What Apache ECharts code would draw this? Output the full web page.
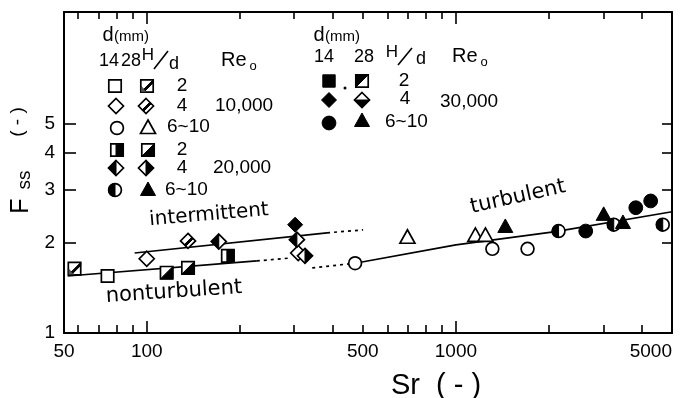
<!DOCTYPE html>
<html><head><meta charset="utf-8">
<script src="https://cdn.jsdelivr.net/npm/echarts@6/dist/echarts.min.js"></script>
<style>html,body{margin:0;padding:0;background:#fff}#c{width:686px;height:398px}</style>
</head><body><div id="c"></div>
<script>
// ---- axis ranges and ticks ----
const xMin = 54, xMax = 5000, yMin = 1, yMax = 11.8;
const xLabelValues = [54, 100, 500, 1000, 5000];
const xTickLabels = ['50', '100', '500', '1000', '5000'];
const xMajorTicks = [100, 1000];
const xMinorTicks = [60, 70, 80, 90, 200, 300, 400, 500, 600, 700, 800, 900, 2000, 3000, 4000];
const yLabelValues = [1, 2, 3, 4, 5];
const yTickLabels = ['1', '2', '3', '4', '5'];
const yTicks = [2, 3, 4, 5];

// ---- data (Sr, Fss) by marker type ----
// Re0 = 10,000
const sqOpen = [[74.7, 1.55]];                       // 14mm, H/d 2
const sqHatch = [[58.4, 1.64]];                      // 28mm, H/d 2
const diOpen = [[100, 1.77], [309, 1.85]];           // 14mm, H/d 4
const diHatch = [[136, 2.03]];                       // 28mm, H/d 4
const ciOpen = [[472, 1.71], [1312, 1.91], [1705, 1.91]]; // 14mm, 6~10
const trOpen = [[697, 2.08], [1156, 2.11], [1246, 2.11]]; // 28mm, 6~10
// Re0 = 20,000
const sqRight = [[183, 1.81]];                       // 14mm, H/d 2
const sqLowR = [[116, 1.59], [136, 1.65]];           // 28mm, H/d 2
const diLeft = [[171, 2.02], [306, 2.05]];           // 14mm, H/d 4
const diRight = [[325, 1.81]];                       // 28mm, H/d 4
const ciHalf = [[2148, 2.19], [3240, 2.30], [4667, 2.30]]; // 14mm, 6~10
const trFill20 = [[1445, 2.26]];                     // 28mm, 6~10
// Re0 = 30,000
const diFill = [[302, 2.30]];                        // 14mm, H/d 4
const ciFill = [[2630, 2.19], [3818, 2.62], [4266, 2.76]]; // 14mm, 6~10
const trFill30 = [[3006, 2.48], [3470, 2.33]];       // 28mm, 6~10

// ---- correlation curves ----
const nonturbSolid = [[55.5, 1.55], [227, 1.74]];
const nonturbDotted = [[227, 1.74], [291, 1.78]];
const interSolid = [[91.4, 1.85], [383, 2.16]];
const interDotted = [[383, 2.16], [501, 2.21]];
const turbDotted = [[343, 1.65], [472, 1.71]];
const turbSolid = [[472, 1.71], [1000, 1.97], [2100, 2.18], [5000, 2.54]];

const TF = "'Liberation Sans', Arial, sans-serif";
const AF = "'DejaVu Sans', sans-serif";
const OPEN = {fill: '#fff', stroke: '#000', lineWidth: 1.7};
const BLACK = {fill: '#000', stroke: '#000', lineWidth: 1};

function P(cx, cy, pts) { return pts.map(p => [cx + p[0], cy + p[1]]); }
function poly(cx, cy, pts, style) { return {type: 'polygon', shape: {points: P(cx, cy, pts)}, style: style}; }

function marker(type, cx, cy) {
  const h = 6.2, d = 7.5, r = 6.4;
  const sq = [[-h, -h], [h, -h], [h, h], [-h, h]];
  const di = [[0, -d], [d, 0], [0, d], [-d, 0]];
  const tr = [[0, -8], [7.5, 5.5], [-7.5, 5.5]];
  const ch = [];
  switch (type) {
    case 'sqOpen': ch.push(poly(cx, cy, sq, OPEN)); break;
    case 'sqFill': ch.push(poly(cx, cy, sq, BLACK)); break;
    case 'sqHatch':
      ch.push(poly(cx, cy, sq, OPEN));
      ch.push(poly(cx, cy, [[-h, h], [h, -h], [h, -h + 3], [-h + 3, h]], BLACK));
      ch.push(poly(cx, cy, [[-h, h], [-h, 0], [0, h]], {fill: '#555', stroke: '#000', lineWidth: 0.5}));
      break;
    case 'sqRight':
      ch.push(poly(cx, cy, sq, OPEN));
      ch.push(poly(cx, cy, [[-1, -h], [h, -h], [h, h], [-1, h]], BLACK));
      break;
    case 'sqLowR':
      ch.push(poly(cx, cy, sq, OPEN));
      ch.push(poly(cx, cy, [[h, -h], [h, h], [-h, h]], BLACK));
      break;
    case 'sqUpL':
      ch.push(poly(cx, cy, sq, OPEN));
      ch.push(poly(cx, cy, [[-h, -h], [h, -h], [-h, h]], BLACK));
      break;
    case 'diOpen': ch.push(poly(cx, cy, di, OPEN)); break;
    case 'diFill': ch.push(poly(cx, cy, di, BLACK)); break;
    case 'diHatch':
      ch.push(poly(cx, cy, di, OPEN));
      ch.push(poly(cx, cy, [[-d / 2, d / 2], [d / 2, -d / 2], [d / 2 + 1.5, -d / 2 + 1.5], [-d / 2 + 1.5, d / 2 + 1.5]], BLACK));
      break;
    case 'diLeft':
      ch.push(poly(cx, cy, di, OPEN));
      ch.push(poly(cx, cy, [[0, -d], [0, d], [-d, 0]], BLACK));
      break;
    case 'diRight':
      ch.push(poly(cx, cy, di, OPEN));
      ch.push(poly(cx, cy, [[0, -d], [d, 0], [0, d]], BLACK));
      break;
    case 'diBottom':
      ch.push(poly(cx, cy, di, OPEN));
      ch.push(poly(cx, cy, [[-d, 0], [d, 0], [0, d]], BLACK));
      break;
    case 'ciOpen': ch.push({type: 'circle', shape: {cx: cx, cy: cy, r: r}, style: OPEN}); break;
    case 'ciFill': ch.push({type: 'circle', shape: {cx: cx, cy: cy, r: r + 0.5}, style: BLACK}); break;
    case 'ciHalf':
      ch.push({type: 'circle', shape: {cx: cx, cy: cy, r: r}, style: OPEN});
      ch.push({type: 'sector', shape: {cx: cx, cy: cy, r0: 0, r: r, startAngle: Math.PI / 2, endAngle: Math.PI * 1.5, clockwise: true}, style: BLACK});
      break;
    case 'trOpen': ch.push(poly(cx, cy, tr, OPEN)); break;
    case 'trFill': ch.push(poly(cx, cy, tr, BLACK)); break;
  }
  return {type: 'group', children: ch};
}

function markerSeries(name, type, data) {
  return {
    name: name, type: 'custom', coordinateSystem: 'cartesian2d', xAxisIndex: 0, yAxisIndex: 0, z: 5,
    data: data,
    renderItem: function (params, api) {
      const p = api.coord([api.value(0), api.value(1)]);
      return marker(type, p[0], p[1]);
    }
  };
}
function lineSeries(data, dotted) {
  return {
    type: 'line', xAxisIndex: 0, yAxisIndex: 0, data: data, symbol: 'none', z: 3,
    lineStyle: {color: '#000', width: 1.7, type: dotted ? [3, 4] : 'solid'}
  };
}

function txt(s, x, y, size, opts) {
  opts = opts || {};
  return {
    type: 'text', x: x, y: y, rotation: opts.rot || 0, z: 20,
    style: {text: s, fill: '#000', font: (opts.weight || 'normal') + ' ' + size + 'px ' + (opts.family || TF),
      align: opts.align || 'center', verticalAlign: 'middle'}
  };
}
function ln(x1, y1, x2, y2) {
  return {type: 'line', z: 20, shape: {x1: x1, y1: y1, x2: x2, y2: y2}, style: {stroke: '#000', lineWidth: 1.6}};
}

const legendGraphics = [
  // left block header
  txt('d', 108, 35, 20), txt('(mm)', 114, 37, 15, {align: 'left'}),
  txt('14', 109, 61, 18), txt('28', 131, 61, 18),
  txt('H', 148, 55, 17), ln(154, 69, 168, 51), txt('d', 174, 64, 18),
  txt('Re', 221, 60, 20, {align: 'left'}), txt('o', 253, 66, 13),
  // left block rows
  txt('2', 182, 86, 19), txt('4', 182, 106, 19), txt('6~10', 167, 127, 19, {align: 'left'}),
  txt('2', 182, 150, 19), txt('4', 182, 168, 19), txt('6~10', 165, 190, 19, {align: 'left'}),
  txt('10,000', 215, 106, 19, {align: 'left'}), txt('20,000', 213, 168, 19, {align: 'left'}),
  marker('sqOpen', 115, 86), marker('sqHatch', 147, 86),
  marker('diOpen', 116, 106), marker('diHatch', 146, 106),
  marker('ciOpen', 117, 128), marker('trOpen', 148, 128),
  marker('sqRight', 117, 150), marker('sqLowR', 148, 150),
  marker('diLeft', 116, 168), marker('diRight', 146, 168),
  marker('ciHalf', 115, 190), marker('trFill', 148, 190),
  // right block header
  txt('d', 319, 35, 20), txt('(mm)', 325, 37, 15, {align: 'left'}),
  txt('14', 324, 57, 18), txt('28', 364, 57, 18),
  txt('H', 392, 52, 17), ln(398, 65, 412, 48), txt('d', 421, 59, 18),
  txt('Re', 452, 56, 20, {align: 'left'}), txt('o', 484, 62, 13),
  // right block rows
  txt('2', 404, 81, 19), txt('4', 405, 99, 19), txt('6~10', 385, 122, 19, {align: 'left'}),
  txt('30,000', 440, 102, 19, {align: 'left'}),
  marker('sqFill', 329, 81), {type: 'circle', z: 20, shape: {cx: 345, cy: 88, r: 1.5}, style: {fill: '#000'}}, marker('sqUpL', 362, 81),
  marker('diFill', 329, 100), marker('diBottom', 362, 100),
  marker('ciFill', 329, 123), marker('trFill', 362, 121),
  // curve annotations
  txt('intermittent', 209, 215, 20, {family: AF, rot: 0.085}),
  txt('nonturbulent', 174, 292, 21, {family: AF, rot: 0.065}),
  txt('turbulent', 518, 197, 21, {family: AF, rot: 0.22}),
  // axis names
  txt('F', 21, 206, 25, {rot: Math.PI / 2}),
  txt('ss', 25, 180, 19, {rot: Math.PI / 2}),
  txt('( - )', 18, 122, 19, {rot: Math.PI / 2}),
  txt('Sr  ( - )', 436, 386, 29)
];
legendGraphics.forEach(g => { if (g.type === 'group') g.z = 20; });

const axLine = {show: true, lineStyle: {color: '#000', width: 2}};
function xAx(pos, ticks, len, showLine, showLabel) {
  return {
    type: 'log', gridIndex: 0, position: pos, min: xMin, max: xMax,
    axisLine: showLine ? axLine : {show: false},
    axisTick: {show: true, inside: true, length: len, customValues: ticks, lineStyle: {color: '#000', width: 1.6}},
    minorTick: {show: false}, splitLine: {show: false},
    axisLabel: showLabel ? {show: true, customValues: xLabelValues, color: '#000', fontSize: 19, fontFamily: TF, margin: 9,
      alignMaxLabel: 'right',
      formatter: function (v) { const i = xLabelValues.findIndex(t => Math.abs(t - v) / t < 0.01); return i >= 0 ? xTickLabels[i] : ''; }} : {show: false}
  };
}
function yAx(pos, len, showLabel) {
  return {
    type: 'log', gridIndex: 0, position: pos, min: yMin, max: yMax,
    axisLine: axLine,
    axisTick: {show: true, inside: true, length: len, customValues: yTicks, lineStyle: {color: '#000', width: 1.6}},
    minorTick: {show: false}, splitLine: {show: false},
    axisLabel: showLabel ? {show: true, customValues: yLabelValues, color: '#000', fontSize: 19, fontFamily: TF, margin: 9,
      formatter: function (v) { const i = yLabelValues.findIndex(t => Math.abs(t - v) / t < 0.01); return i >= 0 ? yTickLabels[i] : ''; }} : {show: false}
  };
}

const chart = echarts.init(document.getElementById('c'), null, {renderer: 'canvas'});
chart.setOption({
  animation: false,
  backgroundColor: '#fff',
  grid: {left: 64, right: 14, top: 12, bottom: 65, containLabel: false},
  xAxis: [
    xAx('bottom', xMajorTicks, 12, true, true),
    xAx('bottom', xMinorTicks, 8, false, false),
    xAx('top', xMajorTicks, 12, true, false),
    xAx('top', xMinorTicks, 7, false, false)
  ],
  yAxis: [yAx('left', 12, true), yAx('right', 10, false)],
  series: [
    lineSeries(nonturbSolid, false), lineSeries(nonturbDotted, true),
    lineSeries(interSolid, false), lineSeries(interDotted, true),
    lineSeries(turbDotted, true), lineSeries(turbSolid, false),
    markerSeries('sqOpen', 'sqOpen', sqOpen),
    markerSeries('sqHatch', 'sqHatch', sqHatch),
    markerSeries('diOpen', 'diOpen', diOpen),
    markerSeries('diHatch', 'diHatch', diHatch),
    markerSeries('ciOpen', 'ciOpen', ciOpen),
    markerSeries('trOpen', 'trOpen', trOpen),
    markerSeries('sqRight', 'sqRight', sqRight),
    markerSeries('sqLowR', 'sqLowR', sqLowR),
    markerSeries('diLeft', 'diLeft', diLeft),
    markerSeries('diRight', 'diRight', diRight),
    markerSeries('ciHalf', 'ciHalf', ciHalf),
    markerSeries('trFill20', 'trFill', trFill20),
    markerSeries('diFill', 'diFill', diFill),
    markerSeries('ciFill', 'ciFill', ciFill),
    markerSeries('trFill30', 'trFill', trFill30)
  ],
  graphic: legendGraphics
});
</script></body></html>
